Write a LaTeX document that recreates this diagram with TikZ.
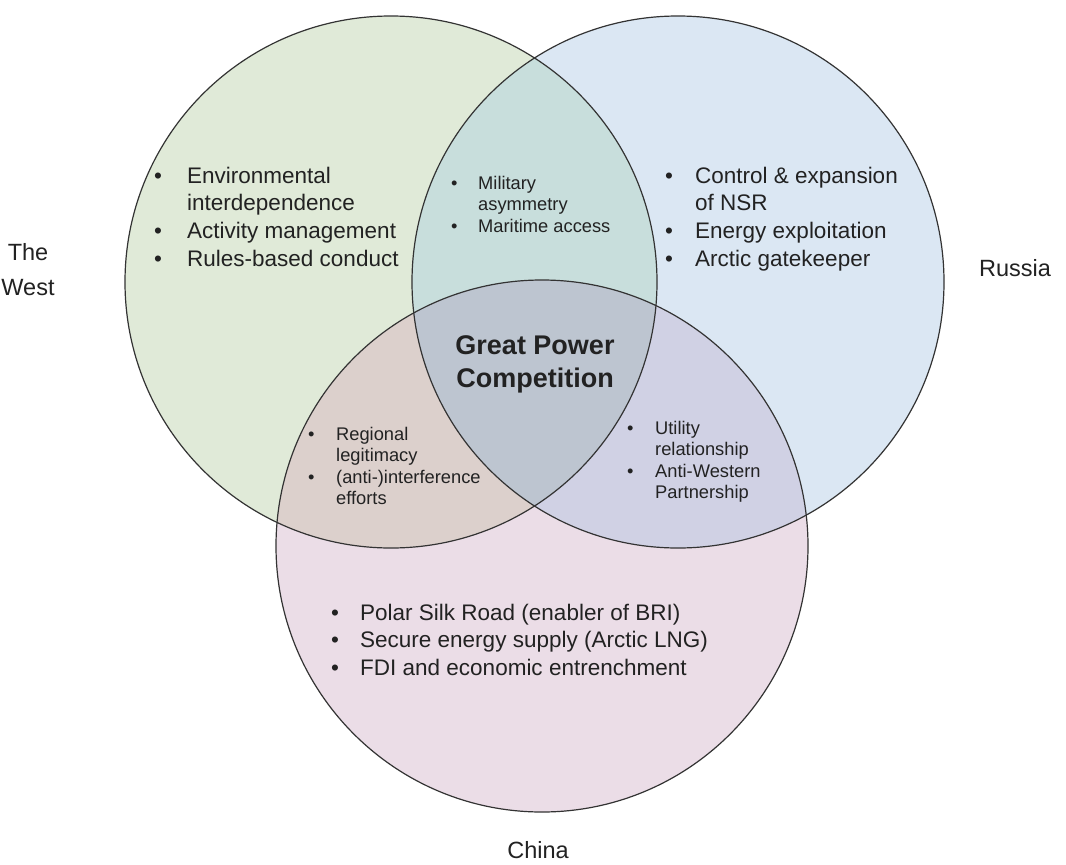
\documentclass[tikz,border=0pt]{standalone}
\usepackage{fontspec}
\setmainfont{Liberation Sans}
\definecolor{cW}{HTML}{E0EAD8}
\definecolor{cR}{HTML}{DBE7F3}
\definecolor{cC}{HTML}{EBDDE7}
\definecolor{cWR}{HTML}{C8DEDC}
\definecolor{cWC}{HTML}{DCD0CC}
\definecolor{cRC}{HTML}{D0D1E4}
\definecolor{cWRC}{HTML}{BDC5D0}
\definecolor{txt}{HTML}{222222}
\newcommand\bl[1]{\makebox[#1pt][l]{\textbullet}}
\tikzset{
  outline/.style={draw=black!80, line width=1.2pt},
  biglist/.style={anchor=base west, inner sep=0pt, text=txt, font=\fontsize{22.5}{27.7}\selectfont},
  smalllist/.style={anchor=base west, inner sep=0pt, text=txt, font=\fontsize{18.3}{21.5}\selectfont},
  label/.style={inner sep=0pt, text=txt, align=center, font=\fontsize{23.5}{35}\selectfont},
}
\begin{document}
\begin{tikzpicture}[x=1pt,y=-1pt]
\useasboundingbox (0,0) rectangle (1066,865);
\fill[white] (0,0) rectangle (1066,865);
\coordinate (W) at (391,282);
\coordinate (R) at (678,282);
\coordinate (C) at (542,546);
\def\rad{266pt}
% single fills
\fill[cW] (W) circle (\rad);
\fill[cR] (R) circle (\rad);
\fill[cC] (C) circle (\rad);
% pairwise overlaps
\begin{scope}\clip (W) circle (\rad); \fill[cWR] (R) circle (\rad);\end{scope}
\begin{scope}\clip (W) circle (\rad); \fill[cWC] (C) circle (\rad);\end{scope}
\begin{scope}\clip (R) circle (\rad); \fill[cRC] (C) circle (\rad);\end{scope}
\begin{scope}\clip (W) circle (\rad); \clip (R) circle (\rad); \fill[cWRC] (C) circle (\rad);\end{scope}
% outlines
\draw[outline] (W) circle (\rad);
\draw[outline] (R) circle (\rad);
\draw[outline] (C) circle (\rad);

% labels
\node[label] (west) at (28,270) {The\\West};
\node[label, anchor=west] (russia) at (979,268) {Russia};
\node[label] (china) at (538,850) {China};

% lists
\node[biglist] (westlist) at (154,183) {\begin{tabular}[t]{@{}l@{}l@{}}
\bl{33} & Environmental\\
 & interdependence\\
\bl{33} & Activity management\\
\bl{33} & Rules-based conduct
\end{tabular}};

\node[biglist] (russialist) at (665,183) {\begin{tabular}[t]{@{}l@{}l@{}}
\bl{30} & Control \& expansion\\
 & of NSR\\
\bl{30} & Energy exploitation\\
\bl{30} & Arctic gatekeeper
\end{tabular}};

\node[biglist] (chinalist) at (331,620) {\begin{tabular}[t]{@{}l@{}l@{}}
\bl{29} & Polar Silk Road (enabler of BRI)\\
\bl{29} & Secure energy supply (Arctic LNG)\\
\bl{29} & FDI and economic entrenchment
\end{tabular}};

\node[smalllist] (wrlist) at (451,189) {\begin{tabular}[t]{@{}l@{}l@{}}
\bl{27} & Military\\
 & asymmetry\\
\bl{27} & Maritime access
\end{tabular}};

\node[smalllist] (wclist) at (308,440) {\begin{tabular}[t]{@{}l@{}l@{}}
\bl{28} & Regional\\
 & legitimacy\\
\bl{28} & (anti-)interference\\
 & efforts
\end{tabular}};

\node[smalllist] (rclist) at (627,434) {\begin{tabular}[t]{@{}l@{}l@{}}
\bl{28} & Utility\\
 & relationship\\
\bl{28} & Anti-Western\\
 & Partnership
\end{tabular}};

\node[inner sep=0pt, text=txt, align=center, font=\fontsize{27}{33}\selectfont\bfseries] (gpc) at (535,364) {Great Power\\Competition};
\end{tikzpicture}
\end{document}
